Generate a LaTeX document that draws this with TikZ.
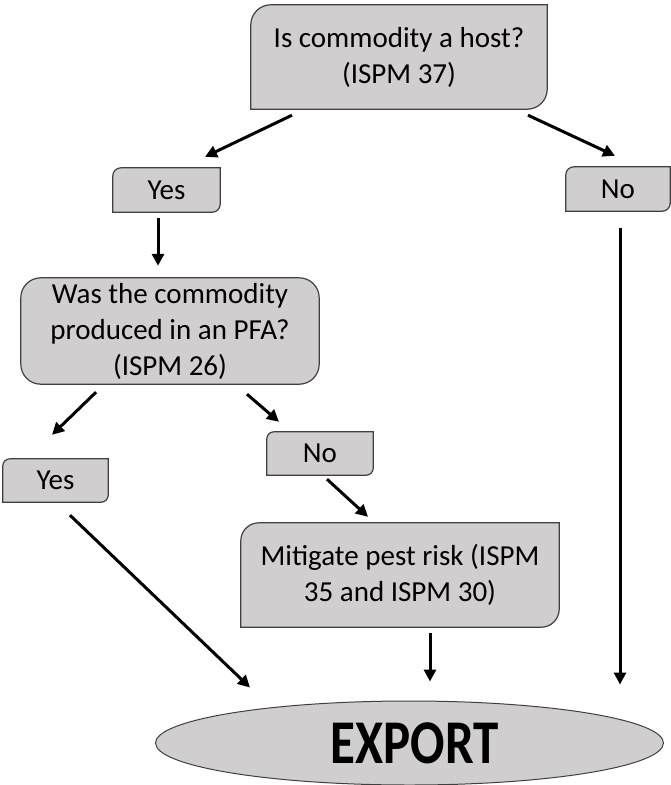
\documentclass[tikz,border=0pt]{standalone}
\usepackage{fontspec}
\setmainfont{Carlito}
\usetikzlibrary{arrows.meta,shapes.geometric,backgrounds}
\definecolor{boxfill}{RGB}{208,206,206}
\definecolor{boxline}{RGB}{64,64,64}
\tikzset{
  boxshape/.style={draw=boxline,fill=boxfill,line width=1.2pt},
  txt/.style={font=\fontsize{29}{36}\selectfont,align=center,inner sep=0pt},
  flow/.style={-{Triangle[length=12pt,width=12pt]},line width=3pt}
}
\begin{document}
\begin{tikzpicture}[x=1pt,y=1pt]
  \useasboundingbox (0,0) rectangle (671,-785);

  \node[txt,minimum width=296,minimum height=104] (host) at (399,-57) {Is commodity a host?\\(ISPM 37)};
  \node[txt,minimum width=107,minimum height=44] (yes1) at (166.5,-190) {Yes};
  \node[txt,minimum width=104,minimum height=44] (no1) at (618,-189) {No};
  \node[txt,minimum width=298,minimum height=106] (pfa) at (170,-331) {Was the commodity\\produced in an PFA?\\(ISPM 26)};
  \node[txt,minimum width=105,minimum height=43] (yes2) at (55.5,-480.5) {Yes};
  \node[txt,minimum width=106,minimum height=43] (no2) at (320,-453.5) {No};
  \node[txt,minimum width=318,minimum height=104] (mitig) at (400,-575) {Mitigate pest risk (ISPM\\35 and ISPM 30)};
  \node[ellipse,draw=boxline,fill=boxfill,line width=1pt,inner sep=0pt,
        minimum width=508,minimum height=84,font=\fontsize{51}{56}\selectfont\bfseries]
        (export) at (409.5,-743) {\raisebox{-3pt}{\hspace{10pt}\scalebox{1}[1.22]{EXPORT}}};

  \begin{scope}[on background layer]
   \foreach \n/\r in {host/20,yes1/8,no1/8,yes2/7,no2/7,mitig/18} {
    \draw[boxshape] ([yshift=-\r]\n.north west) arc[start angle=180,end angle=90,radius=\r]
      -- (\n.north east) -- ([yshift=\r]\n.south east) arc[start angle=0,end angle=-90,radius=\r]
      -- (\n.south west) -- cycle;
   }
   \draw[boxshape,rounded corners=20pt] (pfa.north west) rectangle (pfa.south east);
  \end{scope}

  \draw[flow] ([shift={(-107,-6)}]host.south) -- ([shift={(38.5,11)}]yes1.north);
  \draw[flow] ([shift={(129,-6)}]host.south) -- ([shift={(-3,11)}]no1.north);
  \draw[flow] ([shift={(-8.5,-6)}]yes1.south) -- ([shift={(-12,12)}]pfa.north);
  \draw[flow] ([shift={(-74,-8)}]pfa.south) -- ([shift={(-3.5,24)}]yes2.north);
  \draw[flow] ([shift={(77,-10)}]pfa.south) -- ([shift={(-41,10)}]no2.north);
  \draw[flow] ([shift={(7,-4)}]no2.south) -- ([shift={(-32,6)}]mitig.north);
  \draw[flow] ([shift={(14.5,-13)}]yes2.south) -- ([shift={(-159.5,13)}]export.north);
  \draw[flow] ([shift={(30,-6)}]mitig.south) -- ([shift={(20.5,19)}]export.north);
  \draw[flow] ([shift={(2,-17)}]no1.south) -- ([shift={(210.5,16)}]export.north);
\end{tikzpicture}
\end{document}
